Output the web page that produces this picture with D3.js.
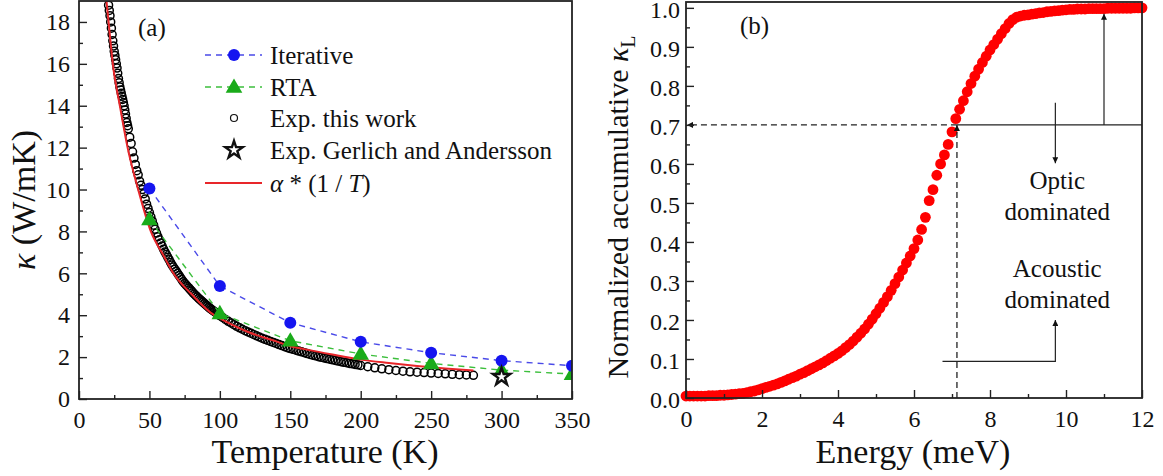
<!doctype html>
<html>
<head>
<script src="https://d3js.org/d3.v7.min.js"></script>
<style>
  body { margin: 0; background: #fff; }
  text { font-family: "Liberation Serif", "Times New Roman", serif; fill: #111; }
</style>
</head>
<body>
<script>
// ---------- panel (a): thermal conductivity vs temperature ----------
var calcTemps  = [50, 100, 150, 200, 250, 300, 350];
var iterKappa  = [10.05, 5.39, 3.64, 2.73, 2.21, 1.83, 1.59];
var rtaKappa   = [8.57, 4.09, 2.78, 2.15, 1.70, 1.38, 1.19];
var gerlichTemp  = [300];
var gerlichKappa = [1.06];

var expTemps = [21,21.5,22,22.5,23,23.5,24,24.5,25,25.5,26,26.5,27,27.5,28,28.5,29,29.5,30,30.5,31,31.5,32,32.5,33,33.5,34,34.5,35,
  36,37,38,39,40,41,42,43,44,45,46,47,48,49,
  50,51,52,53,54,55,56,57,58,59,60,61,62,63,64,65,66,67,68,69,70,71,72,73,74,75,76,77,78,79,
  80,81,82,83,84,85,86,87,88,89,90,91,92,93,94,95,96,97,98,99,
  100,102,104,106,108,110,112,114,116,118,120,122,124,126,128,130,132,134,136,138,140,142,144,146,148,
  150,152,154,156,158,160,162,164,166,168,170,172,174,176,178,180,182,184,186,188,190,192,194,196,198,200,
  205,210,215,220,225,230,235,240,245,250,255,260,265,270,275,280];
var expKappa = [18.8,18.55,18.3,18.0,17.7,17.4,17.1,16.85,16.6,16.4,16.2,16.0,15.8,15.55,15.3,15.1,14.9,14.75,14.6,14.45,14.3,14.15,14.0,13.8,13.6,13.4,13.2,13.05,12.9,
  12.5,12.2,11.8,11.5,11.2,10.9,10.7,10.4,10.2,10.0,9.8,9.55,9.3,9.1,
  8.9,8.7,8.5,8.3,8.1,7.92,7.75,7.6,7.45,7.3,7.15,7.02,6.9,6.77,6.65,6.52,6.4,6.3,6.2,6.1,6.0,5.9,5.8,5.7,5.6,5.52,5.45,5.37,5.3,5.22,
  5.15,5.07,5.0,4.93,4.87,4.8,4.74,4.68,4.62,4.56,4.5,4.45,4.39,4.33,4.28,4.23,4.18,4.13,4.08,4.03,
  3.98,3.89,3.8,3.71,3.63,3.55,3.47,3.4,3.33,3.26,3.2,3.14,3.08,3.02,2.96,2.9,2.85,2.8,2.75,2.7,2.65,2.6,2.55,2.5,2.45,
  2.41,2.37,2.33,2.29,2.25,2.21,2.17,2.13,2.09,2.06,2.02,1.99,1.96,1.93,1.90,1.87,1.84,1.81,1.78,1.75,1.73,1.70,1.68,1.65,1.63,1.60,
  1.54,1.49,1.44,1.40,1.36,1.33,1.30,1.28,1.26,1.24,1.22,1.20,1.18,1.16,1.15,1.13];

var fitTemps = [19.5,21,24,29,34.5,42,51,60,67,80,96,100,120,140,150,160,180,200,220,240,260,280];
var fitKappa = [19.0,18.0,16.0,14.0,12.0,10.0,8.0,6.85,6.0,5.0,4.0,3.85,3.2,2.75,2.52,2.38,2.12,1.88,1.72,1.58,1.46,1.36];

var tempTicks  = [0, 50, 100, 150, 200, 250, 300, 350];
var tempMinor  = [25, 75, 125, 175, 225, 275, 325];
var kappaTicks = [0, 2, 4, 6, 8, 10, 12, 14, 16, 18];
var kappaMinor = [1, 3, 5, 7, 9, 11, 13, 15, 17];
var legendLabels = ["Iterative", "RTA", "Exp. this work", "Exp. Gerlich and Andersson"];

// ---------- panel (b): normalized accumulative kappa vs energy ----------
var energies = [0,0.1,0.2,0.3,0.4,0.5,0.6,0.7,0.8,0.9,1,1.1,1.2,1.3,1.4,1.5,1.6,1.7,1.8,1.9,
  2,2.1,2.2,2.3,2.4,2.5,2.6,2.7,2.8,2.9,3,3.1,3.2,3.3,3.4,3.5,3.6,3.7,3.8,3.9,
  4,4.1,4.2,4.3,4.4,4.5,4.6,4.7,4.8,4.9,5,5.1,5.2,5.3,5.4,5.5,5.6,5.7,5.8,5.9,
  6,6.1,6.2,6.3,6.4,6.5,6.6,6.7,6.8,6.9,7,7.1,7.2,7.3,7.4,7.5,7.6,7.7,7.8,7.9,
  8,8.1,8.2,8.3,8.4,8.5,8.6,8.7,8.8,8.9,9,9.1,9.2,9.3,9.4,9.5,9.6,9.7,9.8,9.9,
  10,10.1,10.2,10.3,10.4,10.5,10.6,10.7,10.8,10.9,11,11.1,11.2,11.3,11.4,11.5,11.6,11.7,11.8,11.9,12];
var accum = [0.005,0.005,0.005,0.005,0.005,0.005,0.006,0.006,0.006,0.007,0.007,0.008,0.009,0.010,0.011,0.012,0.014,0.016,0.018,0.021,
  0.024,0.027,0.030,0.033,0.036,0.040,0.044,0.048,0.052,0.056,0.061,0.065,0.070,0.075,0.080,0.085,0.090,0.096,0.102,0.108,
  0.114,0.121,0.129,0.137,0.146,0.156,0.166,0.177,0.189,0.202,0.216,0.230,0.245,0.260,0.276,0.293,0.310,0.328,0.346,0.364,
  0.383,0.405,0.432,0.463,0.506,0.534,0.571,0.600,0.623,0.650,0.682,0.716,0.740,0.762,0.785,0.806,0.825,0.843,0.860,0.876,
  0.892,0.906,0.920,0.934,0.947,0.960,0.970,0.976,0.979,0.981,0.982,0.984,0.985,0.987,0.988,0.990,0.991,0.992,0.993,0.994,
  0.995,0.996,0.996,0.997,0.997,0.997,0.998,0.998,0.998,0.998,0.998,0.999,0.999,0.999,0.999,0.999,0.999,0.999,1.0,1.0,1.0];

var energyTicks = [0, 2, 4, 6, 8, 10, 12];
var energyMinor = [1, 3, 5, 7, 9, 11];
var accumTicks  = [0, 0.1, 0.2, 0.3, 0.4, 0.5, 0.6, 0.7, 0.8, 0.9, 1.0];
var accumMinor  = [0.05, 0.15, 0.25, 0.35, 0.45, 0.55, 0.65, 0.75, 0.85, 0.95];
var cutEnergy = 7.13, cutAccum = 0.7;
var regionLabels = [["Optic", 0.535], ["dominated", 0.457], ["Acoustic", 0.31], ["dominated", 0.231]];

var W = 1163, H = 476;
var svg = d3.select("body").append("svg").attr("width", W).attr("height", H);

var defs = svg.append("defs");
defs.append("marker").attr("id", "arr")
    .attr("viewBox", "0 0 10 10").attr("refX", 10).attr("refY", 5)
    .attr("markerWidth", 8).attr("markerHeight", 6).attr("markerUnits", "userSpaceOnUse")
    .attr("orient", "auto")
  .append("path").attr("d", "M0,0L10,5L0,10z").attr("fill", "#111");
defs.append("clipPath").attr("id", "clipA")
  .append("rect").attr("x", 79).attr("y", 1).attr("width", 493).attr("height", 398);

var xA = d3.scaleLinear().domain([0, 350]).range([79, 572]);
var yA = d3.scaleLinear().domain([0, 19]).range([399, 1]);
var xB = d3.scaleLinear().domain([0, 12]).range([686, 1142]);
var yB = d3.scaleLinear().domain([0, 1.015]).range([398, 2]);

function styleAxis(g) {
  g.attr("font-family", null).attr("font-size", 24);
  g.select(".domain").remove();
  g.selectAll("line").attr("stroke", "#222").attr("stroke-width", 1.4);
  g.selectAll("text").attr("fill", "#111");
}

function drawAxes(x, y, xt, xm, yt, ym, yfmt, ypad, ydy) {
  var b = y.range()[0];
  svg.append("g").attr("transform", "translate(0," + b + ")")
     .call(d3.axisBottom(x).tickValues(xt).tickSize(-8).tickPadding(12))
     .call(styleAxis);
  svg.append("g").attr("transform", "translate(0," + b + ")")
     .call(d3.axisBottom(x).tickValues(xm).tickSize(-4).tickFormat(""))
     .call(styleAxis);
  svg.append("g").attr("transform", "translate(" + x.range()[0] + ",0)")
     .call(d3.axisLeft(y).tickValues(yt).tickSize(-8).tickPadding(ypad).tickFormat(yfmt))
     .call(styleAxis)
     .call(function(g){ g.selectAll("text").attr("dy", ydy); });
  svg.append("g").attr("transform", "translate(" + x.range()[0] + ",0)")
     .call(d3.axisLeft(y).tickValues(ym).tickSize(-4).tickFormat(""))
     .call(styleAxis);
  svg.append("rect")
     .attr("x", x.range()[0]).attr("y", y.range()[1])
     .attr("width", x.range()[1] - x.range()[0]).attr("height", y.range()[0] - y.range()[1])
     .attr("fill", "none").attr("stroke", "#222").attr("stroke-width", 1.8);
}

// ================= panel (a) =================
var pa = svg.append("g").attr("clip-path", "url(#clipA)");

pa.selectAll("circle.exp").data(expTemps).enter().append("circle")
  .attr("class", "exp")
  .attr("cx", function(d){ return xA(d); })
  .attr("cy", function(d, i){ return yA(expKappa[i]); })
  .attr("r", 4).attr("fill", "none").attr("stroke", "#000").attr("stroke-width", 1.5);

var fitLine = d3.line()
  .x(function(d){ return xA(d); })
  .y(function(d, i){ return yA(fitKappa[i]); })
  .curve(d3.curveMonotoneX);
pa.append("path").datum(fitTemps).attr("d", fitLine)
  .attr("fill", "none").attr("stroke", "#e8262a").attr("stroke-width", 2);

function calcLine(vals) {
  return d3.line().x(function(d){ return xA(d); }).y(function(d, i){ return yA(vals[i]); });
}
pa.append("path").datum(calcTemps).attr("d", calcLine(rtaKappa))
  .attr("fill", "none").attr("stroke", "#3cbf3c").attr("stroke-width", 1.4).attr("stroke-dasharray", "6,5");
pa.append("path").datum(calcTemps).attr("d", calcLine(iterKappa))
  .attr("fill", "none").attr("stroke", "#4a4ae8").attr("stroke-width", 1.4).attr("stroke-dasharray", "6,5");

var triSym = d3.symbol().type(d3.symbolTriangle).size(120);
pa.selectAll("path.rta").data(calcTemps).enter().append("path")
  .attr("class", "rta").attr("d", triSym)
  .attr("transform", function(d, i){ return "translate(" + xA(d) + "," + (yA(rtaKappa[i]) + 1) + ")"; })
  .attr("fill", "#1aab1a");
pa.selectAll("circle.iter").data(calcTemps).enter().append("circle")
  .attr("class", "iter")
  .attr("cx", function(d){ return xA(d); })
  .attr("cy", function(d, i){ return yA(iterKappa[i]); })
  .attr("r", 6).attr("fill", "#1515f0");

var starSym = d3.symbol().type(d3.symbolStar).size(95);
pa.selectAll("path.ger").data(gerlichTemp).enter().append("path")
  .attr("class", "ger").attr("d", starSym)
  .attr("transform", function(d, i){ return "translate(" + xA(d) + "," + yA(gerlichKappa[i]) + ")"; })
  .attr("fill", "#fff").attr("stroke", "#111").attr("stroke-width", 2.4);

drawAxes(xA, yA, tempTicks, tempMinor, kappaTicks, kappaMinor, d3.format("d"), 9, "0.32em");

svg.append("text").attr("x", 138).attr("y", 36).attr("font-size", 25).text("(a)");

// legend
var legY = [55, 87, 118, 150, 183];
var leg = svg.append("g");
leg.append("line").attr("x1", 205).attr("x2", 262).attr("y1", legY[0]).attr("y2", legY[0])
  .attr("stroke", "#4a4ae8").attr("stroke-width", 1.4).attr("stroke-dasharray", "6,5");
leg.append("circle").attr("cx", 234).attr("cy", legY[0]).attr("r", 6).attr("fill", "#1515f0");
leg.append("line").attr("x1", 205).attr("x2", 262).attr("y1", legY[1]).attr("y2", legY[1])
  .attr("stroke", "#3cbf3c").attr("stroke-width", 1.4).attr("stroke-dasharray", "6,5");
leg.append("path").attr("d", triSym).attr("transform", "translate(234," + (legY[1] + 1) + ")").attr("fill", "#1aab1a");
leg.append("circle").attr("cx", 234).attr("cy", legY[2]).attr("r", 3.5)
  .attr("fill", "none").attr("stroke", "#111").attr("stroke-width", 1.2);
leg.append("path").attr("d", starSym).attr("transform", "translate(234," + legY[3] + ")")
  .attr("fill", "#fff").attr("stroke", "#111").attr("stroke-width", 2.4);
leg.append("line").attr("x1", 205).attr("x2", 262).attr("y1", legY[4]).attr("y2", legY[4])
  .attr("stroke", "#e8262a").attr("stroke-width", 2);
leg.selectAll("text.lab").data(legendLabels).enter().append("text")
  .attr("class", "lab").attr("x", 270).attr("y", function(d, i){ return legY[i] + 9; })
  .attr("font-size", 25).text(function(d){ return d; });
var fitLab = leg.append("text").attr("x", 270).attr("y", legY[4] + 9).attr("font-size", 25);
fitLab.append("tspan").attr("font-style", "italic").text("α");
fitLab.append("tspan").text(" * (1 / ");
fitLab.append("tspan").attr("font-style", "italic").text("T");
fitLab.append("tspan").text(")");

// axis titles (a)
svg.append("text").attr("x", 325).attr("y", 463).attr("text-anchor", "middle")
  .attr("font-size", 34).text("Temperature (K)");
var ya = svg.append("text").attr("transform", "translate(35,200) rotate(-90)")
  .attr("text-anchor", "middle").attr("font-size", 34);
ya.append("tspan").attr("font-style", "italic").text("κ");
ya.append("tspan").text(" (W/mK)");

// ================= panel (b) =================
var pb = svg.append("g");
pb.selectAll("circle.acc").data(energies).enter().append("circle")
  .attr("class", "acc")
  .attr("cx", function(d){ return xB(d); })
  .attr("cy", function(d, i){ return yB(accum[i]); })
  .attr("r", 5.4).attr("fill", "#ff0000");

// guide lines
pb.append("line").attr("x1", xB(cutEnergy)).attr("x2", xB(0) + 1).attr("y1", yB(cutAccum)).attr("y2", yB(cutAccum))
  .attr("stroke", "#222").attr("stroke-width", 1.3).attr("stroke-dasharray", "6,4").attr("marker-end", "url(#arr)");
pb.append("line").attr("x1", xB(cutEnergy)).attr("x2", xB(cutEnergy)).attr("y1", yB(0)).attr("y2", yB(cutAccum))
  .attr("stroke", "#222").attr("stroke-width", 1.3).attr("stroke-dasharray", "6,4").attr("marker-end", "url(#arr)");
pb.append("line").attr("x1", xB(cutEnergy)).attr("x2", xB(12)).attr("y1", yB(cutAccum)).attr("y2", yB(cutAccum))
  .attr("stroke", "#222").attr("stroke-width", 1.2);
// arrows
pb.append("line").attr("x1", xB(11)).attr("x2", xB(11)).attr("y1", yB(cutAccum)).attr("y2", yB(0.985))
  .attr("stroke", "#222").attr("stroke-width", 1.2).attr("marker-end", "url(#arr)");
pb.append("line").attr("x1", xB(9.72)).attr("x2", xB(9.72)).attr("y1", yB(0.757)).attr("y2", yB(0.602))
  .attr("stroke", "#222").attr("stroke-width", 1.2).attr("marker-end", "url(#arr)");
pb.append("path")
  .attr("d", "M" + xB(6.75) + "," + yB(0.094) + "H" + xB(9.72) + "V" + yB(0.2))
  .attr("fill", "none").attr("stroke", "#222").attr("stroke-width", 1.2).attr("marker-end", "url(#arr)");

pb.selectAll("text.reg").data(regionLabels).enter().append("text")
  .attr("class", "reg").attr("x", xB(9.77)).attr("y", function(d){ return yB(d[1]); })
  .attr("text-anchor", "middle").attr("font-size", 25).text(function(d){ return d[0]; });

drawAxes(xB, yB, energyTicks, energyMinor, accumTicks, accumMinor, d3.format(".1f"), 6, "0.4em");

svg.append("text").attr("x", 740).attr("y", 34).attr("font-size", 25).text("(b)");

svg.append("text").attr("x", 913).attr("y", 463).attr("text-anchor", "middle")
  .attr("font-size", 34).text("Energy (meV)");
var yb = svg.append("text").attr("transform", "translate(628,207) rotate(-90)")
  .attr("text-anchor", "middle").attr("font-size", 30);
yb.append("tspan").text("Normalized accumulative ");
yb.append("tspan").attr("font-style", "italic").text("κ");
yb.append("tspan").attr("font-size", 20).attr("dy", 7).text("L");
</script>
</body>
</html>
